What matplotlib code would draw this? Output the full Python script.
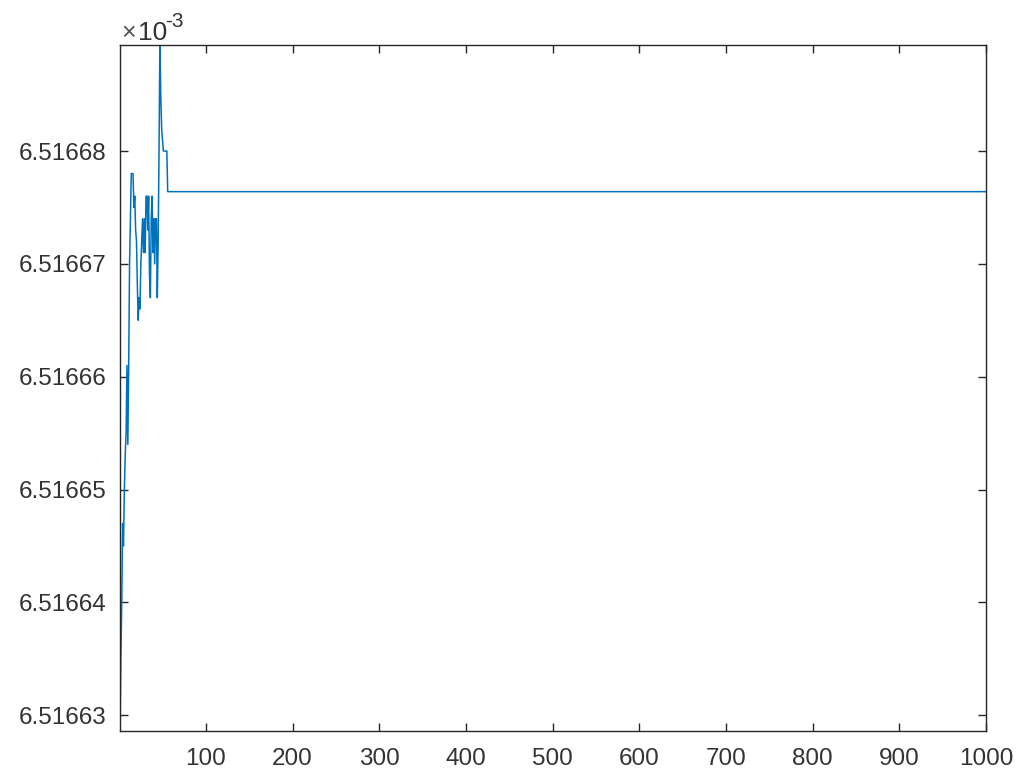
import numpy as np
import matplotlib
matplotlib.use("Agg")
import matplotlib.pyplot as plt
from matplotlib.ticker import FuncFormatter

# ---------------------------------
# Data (in units of 1e-3)
# ---------------------------------
early_vals = [6.5166286, 6.516635, 6.516640, 6.516647, 6.516645, 6.516650,
              6.516653, 6.516655, 6.516661, 6.516654, 6.516661, 6.516670,
              6.516674, 6.516678, 6.516678, 6.516678, 6.516675, 6.516676,
              6.516673, 6.516672, 6.516668, 6.516665, 6.516667, 6.516666,
              6.516670, 6.516672, 6.516674, 6.516671, 6.516674, 6.516671,
              6.516676, 6.516676, 6.516673, 6.516676, 6.516669, 6.516667,
              6.516674, 6.516676, 6.516671, 6.516674, 6.516670, 6.516674,
              6.516674, 6.516667, 6.516672, 6.516680, 6.516690, 6.516685,
              6.516682, 6.516681, 6.516680, 6.516680, 6.516680, 6.516680,
              6.516680]
final_val = 6.5166764
n_iter = 1000

values = np.array(early_vals + [final_val] * (n_iter - len(early_vals))) * 1e-3
iters = np.arange(1, n_iter + 1)

# ---------------------------------
# Plot
# ---------------------------------
plt.rcParams['font.family'] = ['Liberation Sans', 'DejaVu Sans']
fig = plt.figure(figsize=(10.18, 7.74), dpi=100)
ax = fig.add_axes([0.1179, 0.0556, 0.8507, 0.8863])

ax.plot(iters, values, color='#0072BD', lw=1.1)

ax.set_xlim(1, 1000)
ax.set_ylim(6.5166286e-3, 6.5166894e-3)
ax.set_xticks(np.arange(100, 1001, 100))
ax.set_yticks(np.array([6.51663, 6.51664, 6.51665, 6.51666, 6.51667, 6.51668]) * 1e-3)
ax.yaxis.set_major_formatter(FuncFormatter(lambda v, p: "%.5f" % (v * 1e3)))

grey = '#262626'
for s in ax.spines.values():
    s.set_color(grey)
    s.set_linewidth(1.0)
ax.tick_params(direction='in', length=6, width=1.0, colors=grey,
               labelsize=17.5, top=True, right=True, labelcolor='#333333')
ax.tick_params(axis='x', pad=12)
ax.tick_params(axis='y', pad=10)

# exponent label, MATLAB style
fig.text(121 / 1018, 1 - 40 / 774, '\u00d7', fontsize=18, color='#555555',
         ha='left', va='baseline')
fig.text(138 / 1018, 1 - 40 / 774, '10', fontsize=19, color='#333333',
         ha='left', va='baseline')
fig.text(165 / 1018, 1 - 27 / 774, '-3', fontsize=15, color='#333333',
         ha='left', va='baseline')

fig.savefig("out.png", dpi=100)
